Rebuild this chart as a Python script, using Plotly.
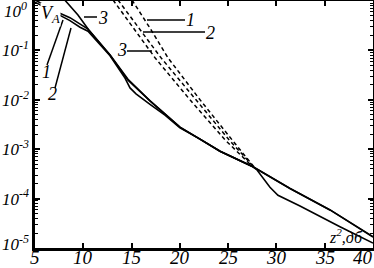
import plotly.graph_objects as go

# ---- data ----
x_s1 = [5.0, 7.28, 8.62, 9.87, 10.49, 12.77, 14.63, 16.91, 18.46, 20.01, 22.09, 24.16, 27.57, 31.41, 35.55, 38.65, 40.0]
y_s1 = [1.05, 6.0e-1, 4.6e-1, 3.2e-1, 2.7e-1, 8.1e-2, 2.5e-2, 9.5e-3, 5.1e-3, 2.8e-3, 1.6e-3, 9.1e-4, 4.4e-4, 1.6e-4, 5.9e-5, 2.5e-5, 1.7e-5]

x_s2 = [5.0, 7.38, 8.62, 9.66, 10.49, 12.77, 14.32, 14.84, 15.46, 16.91, 18.46, 20.01, 22.09, 24.16, 27.57, 27.99, 28.71, 29.33, 30.16, 32.44, 36.58, 38.86, 40.0]
y_s2 = [0.95, 0.55, 0.40, 0.295, 0.245, 7.8e-2, 2.75e-2, 1.74e-2, 1.32e-2, 8.1e-3, 4.9e-3, 2.7e-3, 1.6e-3, 9.1e-4, 4.4e-4, 3.8e-4, 2.4e-4, 1.7e-4, 1.17e-4, 7.1e-5, 2.7e-5, 1.66e-5, 1.26e-5]

x_s3 = [7.90, 9.45, 10.59, 12.77, 14.63, 16.91, 20.01, 22.09, 24.16, 27.57, 31.41, 35.55, 40.0]
y_s3 = [1.15, 0.52, 0.257, 8.1e-2, 2.6e-2, 9.5e-3, 2.8e-3, 1.6e-3, 9.1e-4, 4.4e-4, 1.6e-4, 5.9e-5, 1.66e-5]

x_d1 = [15.04, 16.91, 18.77, 22.09, 25.40, 27.68]
y_d1 = [1.05, 0.282, 7.08e-2, 1.0e-2, 1.55e-3, 4.37e-4]
x_d2 = [13.59, 15.87, 18.05, 21.67, 25.09, 27.57]
y_d2 = [1.05, 0.257, 7.08e-2, 1.0e-2, 1.55e-3, 4.57e-4]
x_d3 = [13.08, 15.36, 17.43, 21.05, 24.67, 27.47]
y_d3 = [1.05, 0.257, 7.08e-2, 1.0e-2, 1.55e-3, 4.57e-4]

x_ticks = [5, 10, 15, 20, 25, 30, 35, 40]
x_ticklabels = ["5", "10", "15", "20", "25", "30", "35", "40"]
y_ticks = [1, 1e-1, 1e-2, 1e-3, 1e-4, 1e-5]
y_ticklabels = ["", "10<sup>-1</sup>", "10<sup>-2</sup>", "10<sup>-3</sup>", "10<sup>-4</sup>", ""]
y_minor = [k * 10.0 ** e for e in range(-5, 0) for k in range(2, 10)]

FONT = "Liberation Serif"

fig = go.Figure()
for xs, ys in [(x_s1, y_s1), (x_s2, y_s2), (x_s3, y_s3)]:
    fig.add_trace(go.Scatter(x=xs, y=ys, mode="lines",
                             line=dict(color="black", width=1.6), showlegend=False))
for xs, ys in [(x_d1, y_d1), (x_d2, y_d2), (x_d3, y_d3)]:
    fig.add_trace(go.Scatter(x=xs, y=ys, mode="lines",
                             line=dict(color="black", width=1.5, dash="4px,3px"), showlegend=False))

# plot-area geometry (pixels) for placing labels
L, T, W, H = 35, 1, 338, 247
def px(x, y):
    return (x - L) / W, (T + H - y) / H

ann = []
def text(x, y, s, size=18, xanchor="center", yanchor="middle", bg=None):
    xp, yp = px(x, y)
    d = dict(x=xp, y=yp, xref="paper", yref="paper", text="<i>" + s + "</i>", showarrow=False,
             font=dict(family=FONT, size=size, color="black"), xanchor=xanchor, yanchor=yanchor)
    if bg:
        d["bgcolor"] = bg
        d["borderpad"] = 0
    ann.append(d)

# x tick labels placed on the x scale just below the axis
for v, t in zip(x_ticks, x_ticklabels):
    ann.append(dict(x=v, y=px(0, 257)[1], xref="x", yref="paper", text="<i>" + t + "</i>",
                    showarrow=False, font=dict(family=FONT, size=19, color="black"),
                    xanchor="right" if v == x_ticks[-1] else "center", yanchor="middle",
                    xshift=2 if v == x_ticks[-1] else 0))

text(15, 10, "10<sup>0</sup>", 17)
text(15, 243, "10<sup>-5</sup>", 17)
text(50, 14, "V<sub>A</sub>", 18, bg="white")
text(46, 72, "1")
text(52, 94, "2")
text(103, 18, "3")
text(122, 50, "3")
text(190, 20, "1")
text(210, 33, "2")
text(346, 236, "z<sup>2</sup>,дб", 16)

shapes = []
def seg(x0, y0, x1, y1):
    a, b = px(x0, y0)
    c, d = px(x1, y1)
    shapes.append(dict(type="line", xref="paper", yref="paper", x0=a, y0=b, x1=c, y1=d,
                       line=dict(color="black", width=1.5)))

seg(47, 65, 63, 20)
seg(55, 88, 71, 28)
seg(84, 17, 97, 17)
seg(127, 51, 152, 51)
seg(147, 20, 185, 20)
seg(143, 32, 205, 32)

fig.update_layout(
    width=374, height=268,
    margin=dict(l=L, r=374 - L - W, t=T, b=268 - T - H, autoexpand=False),
    paper_bgcolor="white", plot_bgcolor="white",
    annotations=ann, shapes=shapes,
    xaxis=dict(range=[5, 40], tickvals=x_ticks, showticklabels=False,
               ticks="inside", ticklen=5, tickwidth=1.5, tickcolor="black",
               showline=True, linecolor="black", linewidth=2.5, mirror="ticks",
               showgrid=False, zeroline=False, automargin=False),
    yaxis=dict(type="log", range=[-5, 0], tickvals=y_ticks,
               ticktext=["<i>" + t + "</i>" if t else "" for t in y_ticklabels],
               ticks="inside", ticklen=5, tickwidth=1.5, tickcolor="black",
               showline=True, linecolor="black", linewidth=2.5, mirror="ticks",
               showgrid=False, zeroline=False, automargin=False,
               minor=dict(tickvals=y_minor, ticks="inside", ticklen=3, tickwidth=1, tickcolor="black", showgrid=False),
               tickfont=dict(family=FONT, size=17, color="black")),
)

fig.write_html("out.html", config={"displayModeBar": False},
               post_script="document.body.style.margin='0';document.body.style.padding='0';")
